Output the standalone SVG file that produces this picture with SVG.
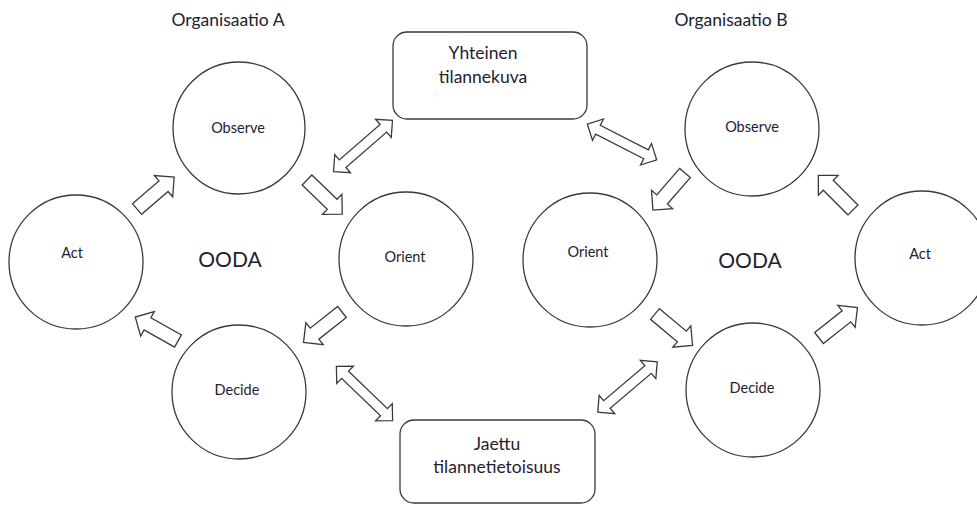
<svg xmlns="http://www.w3.org/2000/svg" xmlns:xlink="http://www.w3.org/1999/xlink" width="977" height="506" viewBox="0 0 977 506">
  <style>
    .bg { fill: #ffffff; }
    .node { fill: #ffffff; stroke: #3a3a3a; stroke-width: 1.3; }
    .arrow { fill: #ffffff; stroke: #3a3a3a; stroke-width: 1.3; stroke-linejoin: miter; }
    .lbl { font-family: Lato, "Open Sans", "Liberation Sans", sans-serif; fill: #1e2230; text-anchor: middle; }
    .small { font-size: 14.5px; }
    .box { font-size: 17.5px; }
    .title { font-size: 17.5px; }
    .big { font-size: 21px; }
  </style>
  <defs>
    <!-- single block arrow: tail at origin, pointing along +x -->
    <path id="arrow1" d="M0,-7 L35,-7 L35,-14 L49,0 L35,14 L35,7 L0,7 Z"/>
    <!-- double-headed block arrow centred on the origin -->
    <path id="arrow2" d="M-39,0 L-27,-12 L-27,-5 L27,-5 L27,-12 L39,0 L27,12 L27,5 L-27,5 L-27,12 Z"/>
  </defs>

  <rect class="bg" x="0" y="0" width="977" height="506"/>

  <!-- organisation titles -->
  <text class="lbl title" x="228" y="26">Organisaatio A</text>
  <text class="lbl title" x="731" y="26">Organisaatio B</text>

  <!-- cycle labels -->
  <text class="lbl big" x="230" y="267">OODA</text>
  <text class="lbl big" x="750" y="268">OODA</text>

  <!-- shared boxes -->
  <g id="yhteinen">
    <rect class="node" x="393" y="32" width="194" height="87" rx="14"/>
    <text class="lbl box" x="483" y="59">Yhteinen</text>
    <text class="lbl box" x="483" y="83">tilannekuva</text>
  </g>
  <g id="jaettu">
    <rect class="node" x="400" y="420" width="195" height="83" rx="14"/>
    <text class="lbl box" x="497" y="450">Jaettu</text>
    <text class="lbl box" x="497" y="473">tilannetietoisuus</text>
  </g>

  <!-- organisation A loop -->
  <g id="a-observe">
    <circle class="node" cx="239" cy="128" r="66"/>
    <text class="lbl small" x="238" y="133">Observe</text>
  </g>
  <g id="a-orient">
    <circle class="node" cx="406" cy="259" r="67"/>
    <text class="lbl small" x="405" y="262">Orient</text>
  </g>
  <g id="a-decide">
    <circle class="node" cx="239" cy="392" r="67"/>
    <text class="lbl small" x="237" y="395">Decide</text>
  </g>
  <g id="a-act">
    <circle class="node" cx="76" cy="262" r="67"/>
    <text class="lbl small" x="72" y="258">Act</text>
  </g>

  <!-- organisation B loop -->
  <g id="b-observe">
    <circle class="node" cx="752" cy="129" r="67"/>
    <text class="lbl small" x="752" y="132">Observe</text>
  </g>
  <g id="b-orient">
    <circle class="node" cx="590" cy="260" r="67"/>
    <text class="lbl small" x="588" y="257">Orient</text>
  </g>
  <g id="b-decide">
    <circle class="node" cx="753" cy="390" r="67"/>
    <text class="lbl small" x="752" y="393">Decide</text>
  </g>
  <g id="b-act">
    <circle class="node" cx="922" cy="258" r="67"/>
    <text class="lbl small" x="920" y="259">Act</text>
  </g>

  <!-- connectors -->
  <g id="connectors">
    <!-- A: act -> observe -> orient -> decide -> act -->
    <use class="arrow" xlink:href="#arrow1" href="#arrow1" transform="translate(137,209) rotate(-40.7)"/>
    <use class="arrow" xlink:href="#arrow1" href="#arrow1" transform="translate(307,180) rotate(44)"/>
    <use class="arrow" xlink:href="#arrow1" href="#arrow1" transform="translate(342,312) rotate(141.7)"/>
    <use class="arrow" xlink:href="#arrow1" href="#arrow1" transform="translate(178,341) rotate(209.3)"/>
    <!-- B: observe -> orient -> decide -> act -> observe -->
    <use class="arrow" xlink:href="#arrow1" href="#arrow1" transform="translate(685,173) rotate(130.9)"/>
    <use class="arrow" xlink:href="#arrow1" href="#arrow1" transform="translate(655,314) rotate(40)"/>
    <use class="arrow" xlink:href="#arrow1" href="#arrow1" transform="translate(819,338) rotate(-38.3)"/>
    <use class="arrow" xlink:href="#arrow1" href="#arrow1" transform="translate(853,210) rotate(-135)"/>
    <!-- links to the shared boxes -->
    <use class="arrow" xlink:href="#arrow2" href="#arrow2" transform="translate(363,146) rotate(-40.9)"/>
    <use class="arrow" xlink:href="#arrow2" href="#arrow2" transform="translate(622,142) rotate(27.2)"/>
    <use class="arrow" xlink:href="#arrow2" href="#arrow2" transform="translate(364.5,393.5) rotate(43.9)"/>
    <use class="arrow" xlink:href="#arrow2" href="#arrow2" transform="translate(627.5,387) rotate(-40.3)"/>
  </g>
</svg>
